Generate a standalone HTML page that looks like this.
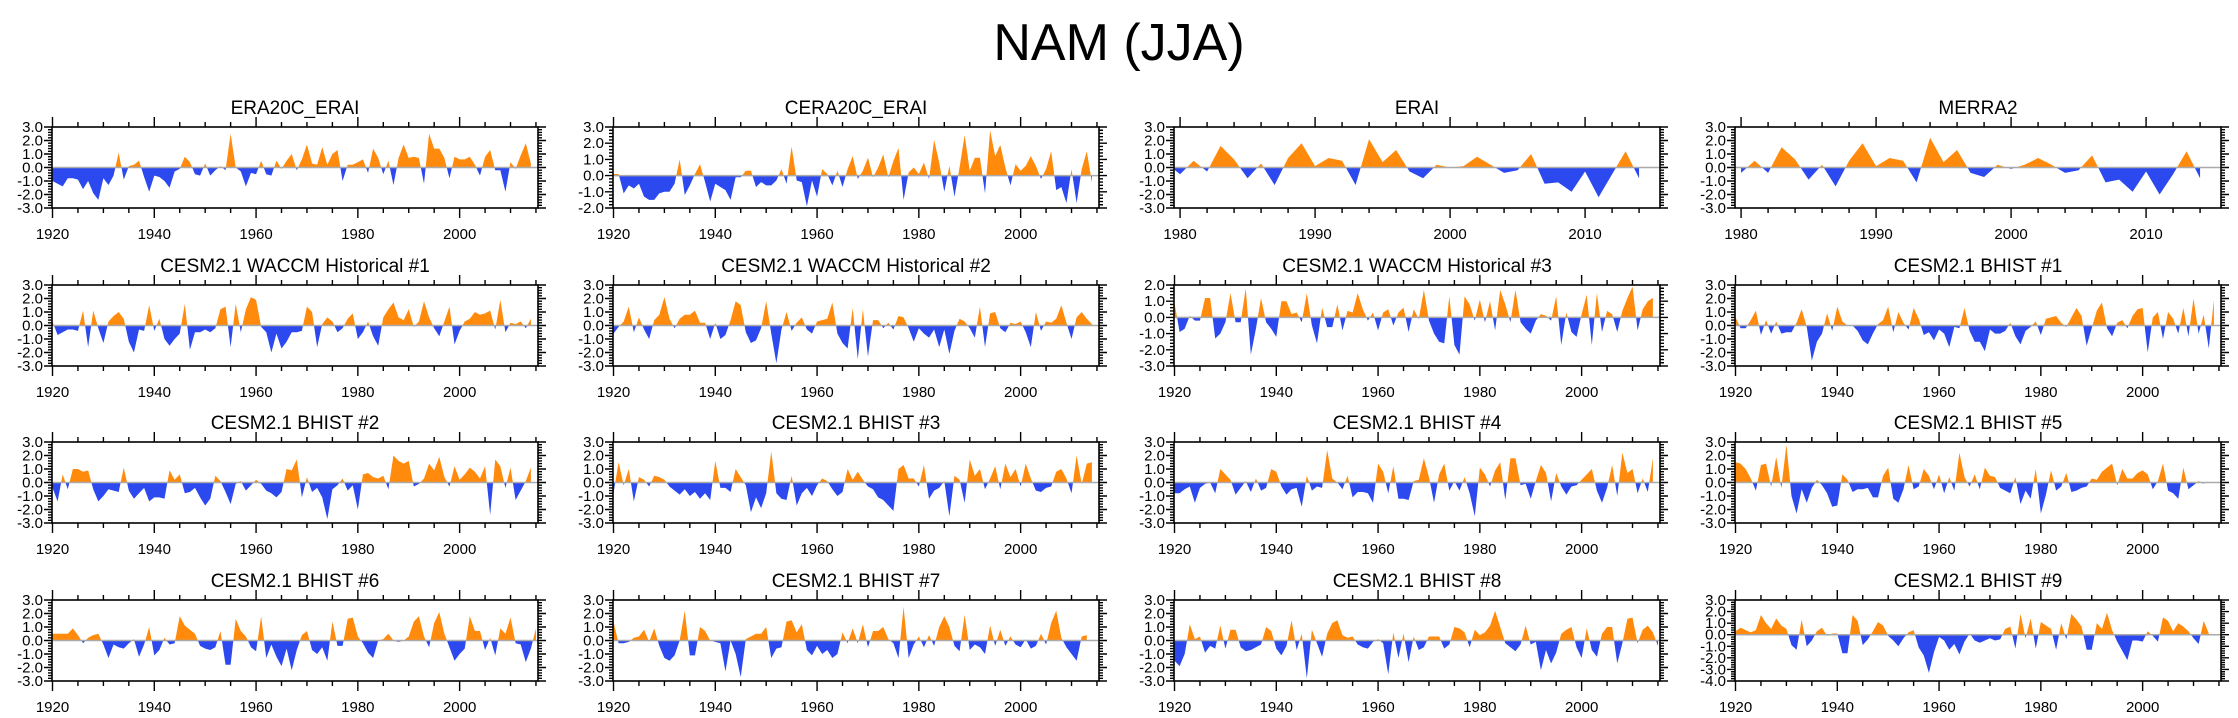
<!DOCTYPE html>
<html><head><meta charset="utf-8">
<style>
html,body{margin:0;padding:0;background:#fff;}
svg{display:block;font-family:"Liberation Sans",Arial,sans-serif;}
</style></head>
<body>
<svg id="chart" width="2238" height="718" viewBox="0 0 2238 718" xmlns="http://www.w3.org/2000/svg">
<rect width="2238" height="718" fill="#fff"/>
<text x="1119" y="60" font-size="52" text-anchor="middle" fill="#000">NAM (JJA)</text>
</svg>
<script>
const titles = ["ERA20C_ERAI","CERA20C_ERAI","ERAI","MERRA2",
"CESM2.1 WACCM Historical #1","CESM2.1 WACCM Historical #2","CESM2.1 WACCM Historical #3","CESM2.1 BHIST #1",
"CESM2.1 BHIST #2","CESM2.1 BHIST #3","CESM2.1 BHIST #4","CESM2.1 BHIST #5",
"CESM2.1 BHIST #6","CESM2.1 BHIST #7","CESM2.1 BHIST #8","CESM2.1 BHIST #9"];
const startYears = [1920,1920,1979,1980,1920,1920,1920,1920,1920,1920,1920,1920,1920,1920,1920,1920];
const yMins = [-3,-2,-3,-3,-3,-3,-3,-3,-3,-3,-3,-3,-3,-3,-3,-4];
const yMaxs = [3,3,3,3,3,3,2,3,3,3,3,3,3,3,3,3];
const era20c = [-1.0,-1.2,-1.4,-0.8,-0.8,-0.9,-1.6,-1.0,-1.9,-2.4,-0.8,-1.3,-0.6,1.1,-0.9,0.1,0.2,0.5,-0.7,-1.8,-0.6,-0.7,-1.0,-1.5,-0.3,-0.1,0.8,0.4,-0.5,-0.6,0.3,-0.6,-0.2,0.1,-0.2,2.5,0.0,-0.3,-1.4,-0.4,-0.5,0.5,-0.5,-0.6,0.5,-0.1,0.5,1.0,-0.2,0.6,1.7,0.3,0.2,1.5,0.2,1.0,1.3,-1.0,0.2,0.2,0.4,0.6,-0.4,1.4,0.7,-0.5,0.5,-1.3,0.7,1.7,0.7,0.8,0.7,-1.2,2.5,1.4,1.4,0.7,-0.8,0.8,0.6,0.6,0.8,0.2,-0.6,0.8,1.3,-0.2,-0.2,-1.8,0.4,-0.1,0.9,1.8,0.3];
const cera20c = [0.1,0.1,-1.1,-0.6,-0.8,-0.5,-1.3,-1.5,-1.5,-1.1,-1.0,-1.0,-0.5,1.0,-1.2,-0.6,0.1,0.7,-0.4,-1.6,-0.5,-0.7,-0.9,-1.5,-0.1,-0.1,0.3,0.3,-0.7,-0.4,-0.6,-0.6,-0.3,0.4,-0.5,1.8,-0.3,-0.4,-1.9,-0.3,-1.3,0.4,0.1,-0.6,0.3,-0.7,0.4,1.2,-0.2,0.3,1.1,-0.1,0.5,1.3,-0.1,0.9,1.7,-1.5,0.2,0.5,0.1,0.8,-0.2,2.2,0.8,-1.0,0.6,-1.3,0.5,2.5,0.3,1.1,1.1,-1.1,2.8,1.2,1.9,0.5,-0.6,0.7,0.3,0.6,1.2,0.6,-0.2,0.4,1.5,-0.9,-0.7,-1.7,0.4,-1.7,0.4,1.5,-0.4];
const erai = [0.3,-0.5,0.5,-0.3,1.6,0.6,-0.8,0.3,-1.3,0.7,1.8,0.1,0.7,0.5,-1.3,2.1,0.4,1.3,-0.3,-0.8,0.2,0.0,0.1,0.8,0.2,-0.4,-0.2,1.0,-1.2,-1.1,-1.8,-0.3,-2.2,-0.5,1.2,-0.8];
const merra2 = [-0.4,0.5,-0.4,1.5,0.6,-0.9,0.2,-1.4,0.5,1.8,0.1,0.7,0.5,-1.1,2.2,0.4,1.3,-0.4,-0.7,0.2,-0.1,0.2,0.7,0.2,-0.4,-0.2,0.9,-1.1,-0.9,-1.8,-0.3,-2.0,-0.5,1.2,-0.8];
const waccm1 = [0.3,-0.7,-0.5,-0.3,-0.3,-0.4,1.1,-1.6,1.1,-0.2,-1.3,0.3,0.7,1.0,0.5,-1.2,-2.0,-0.3,-0.4,1.5,-0.4,0.5,-1.0,-1.5,-1.0,-0.6,1.6,-1.8,-0.5,-0.5,-0.3,-0.5,-0.2,1.2,1.4,-1.6,1.6,-0.5,1.2,2.1,1.9,-0.1,-0.5,-2.0,-0.6,-1.7,-1.2,-0.5,-0.5,-0.4,1.4,1.0,-1.6,0.1,0.6,0.3,-0.5,-0.2,0.5,0.9,-1.0,-0.5,0.3,-0.8,-1.5,0.6,1.2,1.7,0.6,0.4,1.2,-0.1,0.3,1.8,0.6,-0.2,-0.8,0.3,1.4,-1.4,-0.4,0.3,0.5,1.0,0.8,0.9,1.1,-0.3,1.9,-0.5,0.2,0.1,0.3,-0.2,0.5];
const waccm2 = [-0.6,-0.1,0.3,1.4,-0.5,0.6,-0.3,-1.0,0.4,0.8,2.1,0.5,-0.2,0.5,0.8,0.8,1.1,0.2,0.2,-1.0,0.2,-1.0,-0.7,0.4,1.8,1.5,-0.5,-1.3,-1.1,-0.2,1.8,-0.6,-2.8,-0.3,1.0,-0.4,0.2,0.6,-0.3,-0.6,0.3,0.4,0.5,1.7,-0.6,-1.3,-1.7,1.3,-2.5,1.2,-2.3,0.4,0.4,-0.2,0.2,-0.3,0.7,0.6,-0.2,-1.2,-0.2,-0.6,-0.9,-0.3,-1.6,-0.3,-2.1,-0.4,0.5,0.3,-0.2,-0.9,1.4,-1.6,0.9,1.0,-0.2,-0.5,0.2,0.1,0.3,-0.5,-1.6,1.0,-0.4,0.3,0.2,0.5,1.5,0.2,-1.0,0.6,1.0,0.5,0.1];
const waccm3 = [0.9,-0.9,-0.7,0.1,-0.2,-0.2,1.2,1.2,-1.3,-1.0,-0.3,1.5,-0.3,-0.3,1.8,-2.3,-0.7,1.2,-0.3,-0.7,-1.2,1.0,1.0,0.2,0.3,-0.3,1.5,-0.5,-1.6,0.6,-0.6,-0.6,0.8,-0.8,0.4,0.3,1.5,0.5,-0.2,0.3,-0.8,0.3,0.5,-0.5,0.3,0.6,-0.9,0.5,-0.1,1.7,-0.2,-1.0,-1.5,-1.6,1.3,-1.7,-2.3,1.3,0.8,-0.2,1.1,-0.3,1.0,-0.8,1.7,0.8,-0.3,1.7,-0.3,-0.7,-1.0,-0.2,0.2,0.1,-0.2,1.3,-1.7,0.3,-0.9,-1.2,0.2,1.4,-1.7,1.5,-0.9,0.4,0.2,-0.9,0.4,1.2,1.9,-0.8,0.5,1.0,1.2];
const bhist1 = [0.6,-0.2,-0.2,0.4,1.1,-0.7,0.4,-0.6,0.3,-0.6,-0.5,-0.5,0.2,1.2,-0.1,-2.6,-1.2,-0.6,0.9,-0.4,1.4,0.3,0.0,0.0,-0.4,-1.1,-1.4,-0.6,0.1,0.4,1.4,-0.5,1.0,0.2,-0.3,1.3,0.5,-0.7,-0.5,-1.1,-0.3,-0.6,-1.6,-0.1,-0.2,1.3,-0.4,-1.2,-1.2,-1.9,-0.3,-0.6,-0.6,-0.4,0.2,-0.8,-1.4,-0.4,-0.1,0.3,-0.7,0.5,0.6,0.7,0.2,-0.1,0.6,1.3,0.7,-1.5,-0.2,1.1,1.7,-0.2,-0.8,0.2,0.4,-0.2,0.7,1.2,1.3,-2.0,0.6,1.0,-1.0,1.0,0.5,-0.6,1.3,-0.8,2.0,-0.6,0.8,-1.7,1.9];
const bhist2 = [-0.4,-1.4,0.6,-0.5,1.0,1.0,0.8,0.9,-0.5,-1.4,-1.0,-0.5,-0.6,-0.7,1.1,-0.6,-1.2,-0.8,-0.4,-1.4,-1.1,-1.1,-1.2,0.9,0.2,0.6,-0.8,-0.7,-0.4,-1.1,-1.7,-1.2,0.5,0.1,-0.7,-1.6,-0.1,0.1,-0.6,-0.2,0.2,-0.1,-0.6,-0.8,-1.1,-0.7,1.0,0.9,1.7,-1.1,0.4,-0.7,-0.4,-1.1,-2.7,-0.5,-0.2,0.3,-0.6,-0.2,-2.0,0.6,0.7,0.4,0.3,0.5,-0.5,2.0,1.6,1.4,1.6,-0.3,-0.1,0.3,1.4,0.9,1.9,0.4,-0.3,1.2,0.2,0.6,1.1,0.8,0.3,1.2,-2.4,1.7,1.2,-0.4,1.1,-1.3,-0.6,0.1,1.1];
const bhist3 = [-0.8,1.5,-0.2,1.0,-1.4,0.4,0.2,-0.3,0.5,0.4,0.2,-0.3,-0.6,-0.9,-0.5,-1.0,-0.7,-1.2,-0.8,-1.3,1.6,-0.4,-0.4,-0.7,1.0,0.4,-0.2,-2.2,-1.1,-1.9,-0.8,2.3,-0.8,-1.2,-1.3,0.5,-1.7,-0.8,-0.4,-1.0,-0.2,0.3,0.1,-0.5,-1.0,-0.7,1.0,0.2,0.8,0.2,-0.3,-0.5,-1.1,-1.3,-1.7,-2.1,1.0,1.3,0.3,0.3,-0.3,1.3,-1.2,-0.6,-0.4,0.1,-2.5,0.5,0.2,-1.5,1.7,0.5,1.0,-0.5,0.3,1.2,-0.5,1.4,0.4,1.0,-0.3,1.4,0.3,-0.6,-0.7,-0.4,-0.3,0.8,1.0,0.3,-0.8,2.0,-0.1,1.4,1.5];
const bhist4 = [-0.8,-0.8,-0.5,-0.3,-1.5,-0.4,-0.1,0.0,-0.8,1.0,0.6,0.2,-0.9,-0.4,0.1,-0.7,0.3,-0.6,-0.4,1.0,0.8,-0.3,-0.9,-0.5,-0.4,-1.8,0.5,-0.6,-0.3,-0.4,2.4,0.3,0.0,-0.5,0.5,-1.1,-0.7,-0.7,-0.8,-1.5,1.4,0.8,-0.8,1.2,-1.2,-1.2,-1.3,0.1,0.2,1.8,0.4,-1.5,0.6,1.4,-0.6,0.1,-0.6,0.4,-0.8,-2.5,1.1,0.6,-0.3,0.9,1.5,-1.3,1.8,1.8,-0.2,-0.1,-1.2,0.1,1.3,0.7,-1.4,0.7,-0.3,-0.9,-0.3,-0.2,0.2,0.6,1.0,-0.6,-1.5,-0.4,1.3,-1.0,2.2,0.7,1.0,-0.8,0.3,-0.7,1.8];
const bhist5 = [1.5,1.4,1.0,0.3,-0.6,1.3,1.4,-0.3,1.9,-0.4,2.8,-1.0,-2.3,-0.5,-1.5,-0.4,0.2,-0.2,-0.8,-1.8,-1.7,0.6,0.2,-0.7,-0.5,-0.5,-0.4,-1.1,-1.1,0.5,1.1,-1.2,-1.5,-0.5,1.3,-0.5,-0.3,1.0,0.5,-0.5,0.6,-0.8,0.4,-0.6,2.2,0.4,-0.3,0.6,-0.5,1.1,0.5,0.4,-0.4,-0.6,-0.8,0.4,-1.6,-0.6,-1.2,1.0,-2.3,-0.9,0.9,-0.6,-0.3,0.7,-0.7,-0.6,-0.4,-0.3,0.3,0.2,0.8,1.1,1.4,-0.2,1.0,0.3,0.3,0.7,0.9,0.6,-0.5,0.1,1.4,-0.6,-0.8,-1.2,1.1,-0.5,-0.2,0.1,-0.1];
const bhist6 = [0.5,0.5,0.5,0.5,0.9,0.4,-0.2,0.2,0.4,0.5,-0.3,-1.3,-0.3,-0.5,-0.6,-0.2,0.1,-1.2,-0.3,1.0,-1.1,-0.7,0.2,-0.3,-0.2,1.8,1.1,0.8,0.5,-0.4,-0.6,-0.7,-0.5,0.7,-1.8,-1.8,1.6,0.7,0.3,-0.5,-0.8,1.8,-1.3,-0.3,-1.2,-1.9,-0.6,-2.2,-0.7,0.4,0.7,-0.7,-1.0,-0.5,-1.5,1.4,-0.4,-0.4,1.6,1.7,0.3,-0.2,-0.9,-1.3,0.0,0.1,0.5,0.0,-0.1,0.0,0.3,1.4,1.8,0.3,-0.5,1.3,2.1,0.5,-0.5,-1.5,-1.0,-0.6,1.8,0.7,0.7,-0.7,0.2,-1.1,0.9,0.5,1.7,-0.2,-0.3,-1.6,-0.6,0.9];
const bhist7 = [1.4,-0.2,-0.2,-0.1,0.2,0.3,0.8,-0.1,0.9,-0.4,-1.3,-1.5,-1.1,0.0,2.2,-1.1,-1.1,1.0,0.7,0.0,-0.1,-0.2,-2.3,0.0,-1.0,-2.7,0.1,0.3,0.5,0.5,1.0,-1.3,-0.6,-0.5,1.4,1.5,0.6,1.2,-0.7,-1.1,-0.4,-1.0,-0.7,-1.3,-1.0,0.6,-0.2,0.9,-0.2,1.2,-0.5,0.7,0.7,1.0,0.1,-0.2,-1.3,2.5,-1.3,-0.3,0.3,-0.5,0.4,-0.4,1.0,1.8,1.0,-0.4,-0.8,1.9,-0.7,-0.3,-0.5,-1.0,1.1,-0.4,0.8,-0.4,0.3,-0.3,-0.5,0.1,-0.6,-0.4,0.5,-0.3,1.3,2.2,0.2,-0.5,-1.0,-1.5,0.3,0.4];
const bhist8 = [-1.5,-1.9,-1.0,1.2,0.1,0.3,-0.9,-0.4,-0.6,1.1,-0.6,0.8,0.8,-0.5,-0.8,-0.7,-0.5,-0.3,1.0,0.7,-0.6,-1.1,-0.4,1.5,-0.7,0.5,-2.8,0.8,-0.2,-1.2,0.5,1.3,1.5,0.4,0.2,0.3,-0.3,-0.5,-0.6,-0.1,0.1,-0.2,-2.5,0.6,-1.3,0.5,-1.6,0.3,-0.7,-0.5,0.3,0.3,0.3,-0.6,-0.3,1.0,0.9,0.6,-0.5,0.8,0.4,0.6,1.1,2.2,1.0,-0.2,-0.5,-0.8,-0.3,1.1,-0.3,-0.1,-2.2,-0.7,-1.7,-0.9,0.5,0.8,1.0,-0.5,-1.3,0.9,-0.7,-1.2,0.5,1.0,1.0,-1.7,-0.2,1.6,1.7,-0.2,0.8,1.1,0.6,-0.4];
const bhist9 = [0.3,0.6,0.4,0.2,0.4,1.7,1.0,0.5,1.4,0.8,0.5,-0.9,-1.3,1.3,-1.0,-0.5,0.3,0.6,-0.1,0.1,0.1,-1.6,-1.6,1.7,1.2,-0.9,-0.4,0.3,1.1,0.8,-0.1,-0.5,-1.0,-0.3,0.2,0.4,-1.1,-1.8,-3.3,-1.5,-0.2,-0.5,-1.3,-0.8,-1.7,-0.6,0.1,-0.5,-0.7,-0.5,-0.3,-0.5,-0.4,0.5,0.7,-1.2,1.8,-0.3,1.4,-1.2,1.1,0.8,0.5,-1.3,1.0,-0.4,1.8,1.3,0.7,-1.3,-1.3,1.0,0.5,1.9,0.4,-0.6,-1.4,-2.2,-0.5,-0.5,-0.6,0.3,-0.1,-0.6,1.5,1.2,0.3,1.0,0.7,0.3,-0.3,-0.8,1.2,0.1];
const seriesList = [era20c,cera20c,erai,merra2,waccm1,waccm2,waccm3,bhist1,bhist2,bhist3,bhist4,bhist5,bhist6,bhist7,bhist8,bhist9];

const NS = "http://www.w3.org/2000/svg";
const svg = document.getElementById("chart");
const colLeft = [52,613,1174,1735], rowTop = [127,285,442,600];
const PW = 486, PH = 81;
function mk(tag, attrs, parent){
  const e = document.createElementNS(NS, tag);
  for (const k in attrs) e.setAttribute(k, attrs[k]);
  parent.appendChild(e); return e;
}
for (let p = 0; p < 16; p++) {
  const L = colLeft[p % 4], T = rowTop[Math.floor(p / 4)];
  const short = p === 2 || p === 3;
  const x0 = short ? 1979.55 : 1919.9, x1 = short ? 2015.55 : 2015.4;
  const ymin = yMins[p], ymax = yMaxs[p];
  const X = v => L + (v - x0) / (x1 - x0) * PW;
  const Y = v => T + (ymax - v) / (ymax - ymin) * PH;
  const g = mk("g", {}, svg);
  
  
  const t = mk("text", {x: L + PW / 2, y: T - 13, "font-size": 19, "text-anchor": "middle", fill: "#000"}, g);
  
  
  t.textContent = titles[p];
  // area polygon with zero crossings
  const data = seriesList[p], sy = startYears[p];
  const pts = [];
  for (let i = 0; i < data.length; i++) {
    if (i > 0 && (data[i - 1] > 0) !== (data[i] > 0) && data[i - 1] !== 0 && data[i] !== 0) {
      const f = data[i - 1] / (data[i - 1] - data[i]);
      pts.push([sy + i - 1 + f, 0]);
    }
    pts.push([sy + i, data[i]]);
  }
  let d = "M" + X(sy) + "," + Y(0);
  pts.forEach(q => { d += "L" + X(q[0]).toFixed(2) + "," + Y(q[1]).toFixed(2); });
  d += "L" + X(sy + data.length - 1) + "," + Y(0) + "Z";
  const cidU = "cu" + p, cidD = "cd" + p;
  const defs = mk("defs", {}, g);
  const cu = mk("clipPath", {id: cidU}, defs);
  mk("rect", {x: L, y: T, width: PW, height: Y(0) - T}, cu);
  const cd = mk("clipPath", {id: cidD}, defs);
  mk("rect", {x: L, y: Y(0), width: PW, height: T + PH - Y(0)}, cd);
  const pos = mk("path", {d: d, fill: "#ff8a0c", "clip-path": "url(#" + cidU + ")"}, g);
  
  
  const neg = mk("path", {d: d, fill: "#2b49ee", "clip-path": "url(#" + cidD + ")"}, g);
  
  
  const zl = mk("line", {x1: L, x2: L + PW, y1: Y(0), y2: Y(0), stroke: "#aaa", "stroke-width": 1.5}, g);
  
  
  // frame
  const fr = mk("rect", {x: L, y: T, width: PW, height: PH, fill: "none", stroke: "#000", "stroke-width": 1.6}, g);
  
  
  // y ticks
  let tk = "";
  for (let v = ymin; v <= ymax + 1e-6; v += 0.2) {
    const vv = Math.round(v * 10) / 10;
    const major = Math.abs(vv - Math.round(vv)) < 1e-6;
    const len = major ? 8 : 4;
    const yy = Y(vv).toFixed(2);
    tk += "M" + L + "," + yy + "h" + (-len) + "M" + (L + PW) + "," + yy + "h" + len;
  }
  const step = short ? 2 : 5, mjr = short ? 10 : 20;
  const ys = Math.ceil(x0 / step) * step;
  for (let yr = ys; yr <= x1; yr += step) {
    const len = yr % mjr === 0 ? 10 : 5;
    const xx = X(yr).toFixed(2);
    tk += "M" + xx + "," + T + "v" + (-len) + "M" + xx + "," + (T + PH) + "v" + len;
  }
  const tp = mk("path", {d: tk, stroke: "#000", "stroke-width": 1.4, fill: "none"}, g);
  
  
  for (let v = ymin; v <= ymax; v++) {
    const lt = mk("text", {x: L - 9, y: Y(v) + 5, "font-size": 15, "text-anchor": "end", fill: "#000"}, g);
    
    
    lt.textContent = v.toFixed(1);
  }
  for (let yr = Math.ceil(x0 / mjr) * mjr; yr <= x1; yr += mjr) {
    const lt = mk("text", {x: X(yr), y: T + PH + 31, "font-size": 15, "text-anchor": "middle", fill: "#000"}, g);
    
    
    lt.textContent = yr;
  }
}
</script>
</body></html>
